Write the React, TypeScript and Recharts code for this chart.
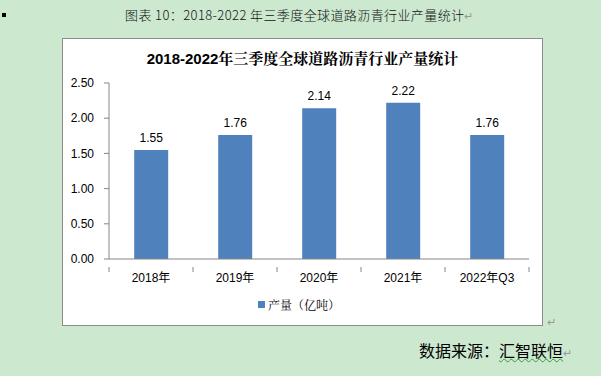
import React from "react";
import { BarChart, Bar, XAxis, YAxis, LabelList, Legend } from "recharts";

const categories = ["2018年", "2019年", "2020年", "2021年", "2022年Q3"];
const production = [1.55, 1.76, 2.14, 2.22, 1.76];
const yTicks = [0, 0.5, 1.0, 1.5, 2.0, 2.5];
const seriesName = "产量（亿吨）";
const chartTitle = "2018-2022年三季度全球道路沥青行业产量统计";
const pageTitle = "图表 10：2018-2022 年三季度全球道路沥青行业产量统计";

const data = categories.map((c, i) => ({ name: c, value: production[i] }));

const FONT = "'Liberation Sans', 'Noto Sans CJK SC', sans-serif";
const SERIF_MIX = "'Liberation Sans', 'Noto Serif CJK SC', 'Noto Sans CJK SC', serif";
const CHART_W = 479;
const CHART_H = 286;
const MARGIN = { top: 44, right: 13, left: 0, bottom: 6 };
const Y_W = 46;
const BAND = (CHART_W - MARGIN.left - MARGIN.right - Y_W) / categories.length;

const XTick = (props: any) => {
  const { x, y, payload, index } = props;
  const isLast = index === categories.length - 1;
  return (
    <g>
      <line x1={x - BAND / 2} x2={x - BAND / 2} y1={y} y2={y + 5} stroke="#868686" />
      {isLast && <line x1={x + BAND / 2} x2={x + BAND / 2} y1={y} y2={y + 5} stroke="#868686" />}
      <text x={x} y={y + 11} textAnchor="middle" dominantBaseline="central" fontSize={12} fill="#000" fontFamily={FONT}>
        {payload.value}
      </text>
    </g>
  );
};

const LegendContent = () => (
  <div style={{ display: "flex", justifyContent: "center", alignItems: "center", height: 30, fontFamily: SERIF_MIX, fontSize: 12, color: "#000", paddingLeft: 6 }}>
    <span style={{ display: "inline-block", width: 7, height: 7, background: "#4F81BD", marginRight: 3 }} />
    <span>{seriesName}</span>
  </div>
);

export default function App() {
  return (
    <div style={{ position: "absolute", left: 0, top: 0, width: 601, height: 376, background: "#CCE8CF", overflow: "hidden", fontFamily: FONT }}>
      <div style={{ position: "absolute", left: 2, top: 13, width: 4, height: 4, background: "#000" }} />
      <div style={{ position: "absolute", left: 125, top: 6, fontSize: 13, letterSpacing: 0.4, lineHeight: "18px", color: "#111", fontWeight: 300, fontFamily: "'Noto Sans CJK SC', sans-serif", whiteSpace: "pre" }}>
        <span>{pageTitle}</span>
        <span style={{ color: "#999", fontSize: 11 }}>↵</span>
      </div>
      <div style={{ position: "absolute", left: 62, top: 38, width: CHART_W, height: CHART_H, border: "1px solid #8c8c8c", background: "#fff" }}>
        <div style={{ position: "absolute", left: 0, width: CHART_W, top: 8, textAlign: "center", fontSize: 15, fontWeight: "bold", color: "#000", fontFamily: SERIF_MIX }}>
          {chartTitle}
        </div>
        <BarChart width={CHART_W} height={CHART_H} data={data} margin={MARGIN} barCategoryGap="30%">
          <XAxis dataKey="name" tickLine={false} stroke="#868686" tick={<XTick />} height={30} interval={0} />
          <YAxis
            domain={[0, 2.5]}
            ticks={yTicks}
            width={Y_W}
            stroke="#868686"
            tickSize={5}
            tickMargin={10}
            tickFormatter={(v: number) => v.toFixed(2)}
            tick={{ fontSize: 12, fill: "#000", fontFamily: FONT }}
          />
          <Legend verticalAlign="bottom" height={30} content={<LegendContent />} />
          <Bar dataKey="value" name={seriesName} fill="#4F81BD" isAnimationActive={false}>
            <LabelList dataKey="value" position="top" offset={8} fontSize={12} fill="#000" fontFamily={FONT} formatter={(v: any) => Number(v).toFixed(2)} />
          </Bar>
        </BarChart>
      </div>
      <div style={{ position: "absolute", left: 547, top: 316, color: "#999", fontSize: 11 }}>↵</div>
      <div style={{ position: "absolute", left: 419, top: 340, fontSize: 16, color: "#000", fontFamily: "'Noto Sans CJK SC', sans-serif", lineHeight: "20px", whiteSpace: "nowrap" }}>
        数据来源：
        <span style={{ textDecoration: "underline wavy #3a9a3a", textDecorationThickness: 1 }}>汇智联恒</span>
        <span style={{ color: "#999", fontSize: 11 }}>↵</span>
      </div>
    </div>
  );
}
